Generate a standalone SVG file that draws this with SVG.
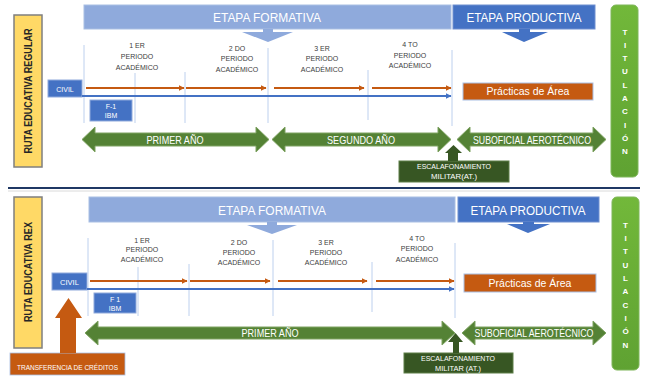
<svg xmlns="http://www.w3.org/2000/svg" width="645" height="381" viewBox="0 0 645 381">
<defs>
<style>
text{font-family:"Liberation Sans",Arial,sans-serif}
.ruta{fill:#FFD966;stroke:#7F7F7F;stroke-width:1.5}
.rutat{font-size:10px;font-weight:bold;fill:#262626;text-anchor:middle}
.form{fill:#8FAADC;stroke:#A9BFE3;stroke-width:1}
.prod{fill:#4472C4;stroke:#6F8FD0;stroke-width:1}
.head{font-size:12.5px;fill:#fff;text-anchor:middle}
.per{font-size:7px;fill:#404040;text-anchor:middle}
.vl{stroke:#BDD0EE;stroke-width:1}
.bbox{fill:#4472C4;stroke:#8FAADC;stroke-width:1}
.wt{fill:#fff;text-anchor:middle}
.or{stroke:#C55A11;stroke-width:2;fill:none}
.bl{stroke:#4472C4;stroke-width:2;fill:none}
.garr{fill:#548235;stroke:#7FA363;stroke-width:1}
.glab{font-size:10.5px;fill:#fff;text-anchor:middle}
.esc{fill:#375623;stroke:#5E7F48;stroke-width:1}
.prac{fill:#C55A11;stroke:#A9BFE3;stroke-width:1}
.tit{fill:url(#tg);stroke:#7FB65A;stroke-width:1}
.titl{font-size:8px;font-weight:bold;fill:#fff;text-anchor:middle}
</style>
<linearGradient id="tg" x1="0" y1="0" x2="0" y2="1">
<stop offset="0" stop-color="#72B83A"/>
<stop offset="1" stop-color="#5FA232"/>
</linearGradient>
<marker id="ao" viewBox="0 0 10 10" refX="9" refY="5" markerWidth="3" markerHeight="3" orient="auto" markerUnits="strokeWidth">
<path d="M0,0 L10,5 L0,10 Z" fill="#C55A11"/>
</marker>
<marker id="ab" viewBox="0 0 10 10" refX="9" refY="5" markerWidth="3" markerHeight="3" orient="auto" markerUnits="strokeWidth">
<path d="M0,0 L10,5 L0,10 Z" fill="#4472C4"/>
</marker>
</defs>
<rect width="645" height="381" fill="#fff"/>

<!-- ===== TOP SECTION: RUTA REGULAR ===== -->
<g id="ruta-regular">
<rect class="ruta" x="14" y="15" width="28" height="152"/>
<text class="rutat" transform="translate(31.5,91) rotate(-90)" textLength="125" lengthAdjust="spacingAndGlyphs">RUTA EDUCATIVA REGULAR</text>
</g>
<g id="formativa-1">
<rect class="form" x="84" y="5" width="367" height="24"/>
<text class="head" x="267" y="22" textLength="108" lengthAdjust="spacingAndGlyphs">ETAPA FORMATIVA</text>
<polygon fill="#8FAADC" points="263,29 273,29 273,32 293,32 268,42 242,32 263,32"/>
</g>
<g id="productiva-1">
<rect class="prod" x="453" y="5" width="142" height="24"/>
<text class="head" x="524" y="22" textLength="115" lengthAdjust="spacingAndGlyphs">ETAPA PRODUCTIVA</text>
<polygon fill="#4472C4" points="519,29 530,29 530,32 548,32 524,42 502,32 519,32"/>
</g>
<g id="titulacion-1">
<rect class="tit" x="611" y="5" width="27" height="172" rx="5"/>
<text class="titl" x="625" y="35">T</text>
<text class="titl" x="625" y="48">I</text>
<text class="titl" x="625" y="61">T</text>
<text class="titl" x="625" y="74">U</text>
<text class="titl" x="625" y="88">L</text>
<text class="titl" x="625" y="101">A</text>
<text class="titl" x="625" y="114">C</text>
<text class="titl" x="625" y="128">I</text>
<text class="titl" x="625" y="141">Ó</text>
<text class="titl" x="625" y="154">N</text>
</g>
<g id="periodos-1">
<text class="per" x="137" y="47.5">1 ER</text>
<text class="per" x="137" y="59">PERIODO</text>
<text class="per" x="137" y="69.5">ACADÉMICO</text>
<text class="per" x="237" y="50.5">2 DO</text>
<text class="per" x="237" y="61">PERIODO</text>
<text class="per" x="237" y="71.5">ACADÉMICO</text>
<text class="per" x="322" y="50.5">3 ER</text>
<text class="per" x="322" y="61">PERIODO</text>
<text class="per" x="322" y="71.5">ACADÉMICO</text>
<text class="per" x="410" y="47">4 TO</text>
<text class="per" x="410" y="57.5">PERIODO</text>
<text class="per" x="410" y="67.5">ACADÉMICO</text>
</g>
<g id="civil-1">
<rect class="bbox" x="48" y="80" width="34" height="17"/>
<text class="wt" x="65" y="91.5" font-size="7">CIVIL</text>
</g>
<g id="f1-1">
<rect class="bbox" x="90" y="100" width="42" height="21"/>
<text class="wt" x="111" y="108.5" font-size="7">F-1</text>
<text class="wt" x="111" y="118" font-size="7">IBM</text>
</g>
<g id="practicas-1">
<rect class="prac" x="463" y="83" width="130" height="17"/>
<text class="wt" x="528" y="95" font-size="10.5">Prácticas de Área</text>
</g>
<g id="escalafon-1">
<rect class="esc" x="399" y="161" width="110" height="21"/>
<text class="wt" x="454" y="169" font-size="6.5" textLength="74" lengthAdjust="spacingAndGlyphs">ESCALAFONAMIENTO</text>
<text class="wt" x="454" y="179" font-size="6.5" textLength="46" lengthAdjust="spacingAndGlyphs">MILITAR(AT.)</text>
</g>
<g id="connectors-1">
<line class="vl" x1="84" y1="45" x2="84" y2="123"/>
<line class="vl" x1="135" y1="73" x2="135" y2="123"/>
<line class="vl" x1="185" y1="72" x2="185" y2="123"/>
<line class="vl" x1="268" y1="48" x2="268" y2="123"/>
<line class="vl" x1="368" y1="70" x2="368" y2="120"/>
<line class="vl" x1="452" y1="50" x2="452" y2="126"/>
<line class="bl" x1="82" y1="96" x2="451" y2="96" marker-end="url(#ab)"/>
<line class="or" x1="86" y1="88" x2="184" y2="88" marker-end="url(#ao)"/>
<line class="or" x1="186" y1="88" x2="266" y2="88" marker-end="url(#ao)"/>
<line class="or" x1="274" y1="88" x2="364" y2="88" marker-end="url(#ao)"/>
<line class="or" x1="372" y1="88" x2="451" y2="88" marker-end="url(#ao)"/>
<polygon fill="#375623" points="448,161 448,153 445,153 453.5,145 462,153 458,153 458,161"/>
</g>
<g id="primer-1">
<path class="garr" d="M82,139.5 L95,127 L95,133 L256,133 L256,127 L269,139.5 L256,152 L256,146 L95,146 L95,152 Z"/>
<text class="glab" x="175" y="143.5" textLength="57" lengthAdjust="spacingAndGlyphs">PRIMER AÑO</text>
</g>
<g id="segundo-1">
<path class="garr" d="M272,139.5 L285,127 L285,133 L438,133 L438,127 L451,139.5 L438,152 L438,146 L285,146 L285,152 Z"/>
<text class="glab" x="361" y="143.5" textLength="68" lengthAdjust="spacingAndGlyphs">SEGUNDO AÑO</text>
</g>
<g id="suboficial-1">
<path class="garr" d="M457,139.5 L470,127 L470,133 L593,133 L593,127 L606,139.5 L593,152 L593,146 L470,146 L470,152 Z"/>
<text class="glab" x="532" y="143.5" textLength="118" lengthAdjust="spacingAndGlyphs">SUBOFICIAL AEROTÉCNICO</text>
</g>

<!-- separator -->
<line x1="8" y1="188" x2="640" y2="188" stroke="#1F3864" stroke-width="2"/>
<line x1="8" y1="191" x2="640" y2="191" stroke="#DADADA" stroke-width="1"/>

<!-- ===== BOTTOM SECTION: RUTA REX ===== -->
<g id="ruta-rex">
<rect class="ruta" x="14" y="197" width="28" height="151"/>
<text class="rutat" transform="translate(32,272) rotate(-90)" textLength="100" lengthAdjust="spacingAndGlyphs">RUTA EDUCATIVA REX</text>
</g>
<g id="formativa-2">
<rect class="form" x="89" y="197" width="366" height="25"/>
<text class="head" x="272" y="214.5" textLength="108" lengthAdjust="spacingAndGlyphs">ETAPA FORMATIVA</text>
<polygon fill="#8FAADC" points="267,222 277,222 277,225 297,225 272,234 247,225 267,225"/>
</g>
<g id="productiva-2">
<rect class="prod" x="458" y="197" width="141" height="25"/>
<text class="head" x="528" y="214.5" textLength="115" lengthAdjust="spacingAndGlyphs">ETAPA PRODUCTIVA</text>
<polygon fill="#4472C4" points="523,222 534,222 534,224 550,224 528,233 507,224 523,224"/>
</g>
<g id="titulacion-2">
<rect class="tit" x="612" y="197" width="27" height="173" rx="5"/>
<text class="titl" x="625.5" y="228">T</text>
<text class="titl" x="625.5" y="241">I</text>
<text class="titl" x="625.5" y="254">T</text>
<text class="titl" x="625.5" y="268">U</text>
<text class="titl" x="625.5" y="281">L</text>
<text class="titl" x="625.5" y="294">A</text>
<text class="titl" x="625.5" y="308">C</text>
<text class="titl" x="625.5" y="321">I</text>
<text class="titl" x="625.5" y="334">Ó</text>
<text class="titl" x="625.5" y="348">N</text>
</g>
<g id="periodos-2">
<text class="per" x="142" y="242.5">1 ER</text>
<text class="per" x="142" y="252">PERIODO</text>
<text class="per" x="142" y="262">ACADÉMICO</text>
<text class="per" x="239" y="244.5">2 DO</text>
<text class="per" x="239" y="254.5">PERIODO</text>
<text class="per" x="239" y="264.5">ACADÉMICO</text>
<text class="per" x="326" y="244.5">3 ER</text>
<text class="per" x="326" y="254.5">PERIODO</text>
<text class="per" x="326" y="264.5">ACADÉMICO</text>
<text class="per" x="417" y="240.5">4 TO</text>
<text class="per" x="417" y="251">PERIODO</text>
<text class="per" x="417" y="262">ACADÉMICO</text>
</g>
<g id="civil-2">
<rect class="bbox" x="52" y="273" width="35" height="17"/>
<text class="wt" x="69.5" y="284.5" font-size="7.5">CIVIL</text>
</g>
<g id="f1-2">
<rect class="bbox" x="94" y="293" width="42" height="20"/>
<text class="wt" x="115" y="301.5" font-size="7">F 1</text>
<text class="wt" x="115" y="310.5" font-size="7">IBM</text>
</g>
<g id="practicas-2">
<rect class="prac" x="464" y="274" width="132" height="18"/>
<text class="wt" x="530" y="286.5" font-size="10.5">Prácticas de Área</text>
</g>
<g id="escalafon-2">
<rect class="esc" x="404" y="353" width="109" height="20"/>
<text class="wt" x="458" y="361" font-size="6.5" textLength="74" lengthAdjust="spacingAndGlyphs">ESCALAFONAMIENTO</text>
<text class="wt" x="458" y="370.5" font-size="6.5" textLength="46" lengthAdjust="spacingAndGlyphs">MILITAR (AT.)</text>
</g>
<g id="transferencia">
<rect fill="#C55A11" stroke="#A9BFE3" stroke-width="0.8" x="10" y="353" width="115" height="22"/>
<text class="wt" x="67.5" y="370" font-size="6.5" textLength="101" lengthAdjust="spacingAndGlyphs">TRANSFERENCIA DE CRÉDITOS</text>
</g>
<g id="connectors-2">
<line class="vl" x1="88" y1="238" x2="88" y2="316"/>
<line class="vl" x1="138" y1="267" x2="138" y2="316"/>
<line class="vl" x1="189" y1="264" x2="189" y2="316"/>
<line class="vl" x1="273" y1="240" x2="273" y2="316"/>
<line class="vl" x1="372" y1="262" x2="372" y2="312"/>
<line class="vl" x1="455" y1="243" x2="455" y2="318"/>
<line class="bl" x1="87" y1="289" x2="454" y2="289" marker-end="url(#ab)"/>
<line class="or" x1="90" y1="281" x2="187" y2="281" marker-end="url(#ao)"/>
<line class="or" x1="190" y1="281" x2="270" y2="281" marker-end="url(#ao)"/>
<line class="or" x1="278" y1="281" x2="367" y2="281" marker-end="url(#ao)"/>
<line class="or" x1="376" y1="281" x2="454" y2="281" marker-end="url(#ao)"/>
<polygon fill="#375623" points="453,353 453,342 448,342 455.5,333 463,342 459,342 459,353"/>
<polygon fill="#C55A11" points="60,353 60,318 55,318 68.5,298 82,318 76,318 76,353"/>
</g>
<g id="primer-2">
<path class="garr" d="M85,333 L98,321 L98,327 L442,327 L442,321 L455,333 L442,345 L442,339 L98,339 L98,345 Z"/>
<text class="glab" x="270" y="337" textLength="57" lengthAdjust="spacingAndGlyphs">PRIMER AÑO</text>
</g>
<g id="suboficial-2">
<path class="garr" d="M462,333 L475,321 L475,327 L593,327 L593,321 L606,333 L593,345 L593,339 L475,339 L475,345 Z"/>
<text class="glab" x="534" y="337" textLength="119" lengthAdjust="spacingAndGlyphs">SUBOFICIAL AEROTÉCNICO</text>
</g>
</svg>
